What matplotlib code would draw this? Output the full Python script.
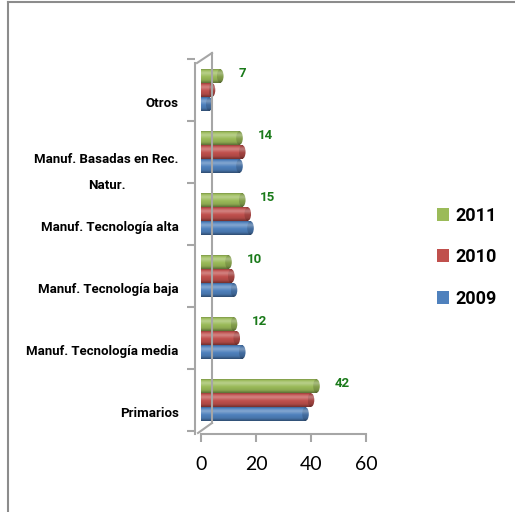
import numpy as np
import matplotlib
matplotlib.use('Agg')
import matplotlib.pyplot as plt
from matplotlib.patches import Ellipse, Patch
from matplotlib.lines import Line2D
import matplotlib.colors as mcolors

# ---- data ----
categories = ['Primarios', 'Manuf. Tecnología media', 'Manuf. Tecnología baja',
              'Manuf. Tecnología alta', 'Manuf. Basadas en Rec.\nNatur.', 'Otros']
v2009 = [38, 15, 12, 18, 14, 3]
v2010 = [40, 13, 11, 17, 15, 4]
v2011 = [42, 12, 10, 15, 14, 7]
years = ['2009', '2010', '2011']
xticks = [0, 20, 40, 60]

colors = {'2009': '#4f81bd', '2010': '#c0504d', '2011': '#9bbb59'}
label_color = '#1a7a1a'
axis_gray = '#a6a6a6'
FONT = ['Lato', 'DejaVu Sans']
BFONT = ['Roboto', 'DejaVu Sans']

W, H = 515, 512
fig = plt.figure(figsize=(W / 100, H / 100), dpi=100)
ax = fig.add_axes([201 / W, 1 - 434 / H, 165 / W, 376 / H])

# spines first (set_position resets ticks)
for s in ['top', 'right']:
    ax.spines[s].set_visible(False)
for s in ['left', 'bottom']:
    ax.spines[s].set_color(axis_gray)
    ax.spines[s].set_linewidth(1.5)
ax.spines['left'].set_position(('outward', 4))
ax.set_facecolor('none')

y = np.arange(len(categories))
bh = 0.22
offs = {'2009': -0.226, '2010': 0.0, '2011': 0.226}
series = {'2009': v2009, '2010': v2010, '2011': v2011}


def mix(c, f):
    r = np.array(mcolors.to_rgb(c))
    if f >= 0:
        return r + (1 - r) * f
    return r * (1 + f)


def gradient(c):
    stops_t = [0.0, 0.2, 0.45, 0.72, 0.88, 1.0]
    stops_f = [-0.4, -0.1, 0.0, 0.3, 0.1, -0.2]
    t = np.linspace(0, 1, 40)
    cols = np.array([mix(c, f) for f in np.interp(t, stops_t, stops_f)])
    cols = np.clip(cols, 0, 1)
    return cols[:, None, :]


cap_w = 2.4
for yr in years:
    bars = ax.barh(y + offs[yr], series[yr], height=bh, color=colors[yr], zorder=2)
    grad = gradient(colors[yr])
    capgrad = gradient(mix(colors[yr], -0.15))
    for b in bars:
        x0, y0 = b.get_x(), b.get_y()
        w, h = b.get_width(), b.get_height()
        im = ax.imshow(grad, extent=(x0, x0 + w, y0, y0 + h), origin='lower',
                       aspect='auto', zorder=3, interpolation='bilinear')
        im.set_clip_path(b)
        cap = Ellipse((x0 + w, y0 + h / 2), cap_w, h, facecolor='none',
                      edgecolor='none', zorder=4)
        ax.add_patch(cap)
        im2 = ax.imshow(capgrad, extent=(x0 + w - cap_w / 2, x0 + w + cap_w / 2, y0, y0 + h),
                        origin='lower', aspect='auto', zorder=4, interpolation='bilinear')
        im2.set_clip_path(cap)

# data labels for 2011
for yi, v in zip(y, v2011):
    ax.annotate(str(v), xy=(v, yi + offs['2011']), xytext=(13, 2),
                textcoords='offset points', ha='left', va='center',
                fontsize=9.5, fontweight='bold', color=label_color, family=BFONT,
                zorder=6)

ax.set_xlim(0, 60)
ax.set_ylim(-0.548, 5.516)
ax.spines['left'].set_bounds(-0.548, 5.44)
ax.set_xticks(xticks)
ax.set_xticklabels([str(t) for t in xticks], fontsize=14, family=FONT)
ax.set_yticks(y - 0.2)
ax.set_yticklabels(categories, fontsize=9.5, fontweight='bold', family=BFONT,
                   linespacing=2.3)
for lbl in ax.get_yticklabels():
    lbl.set_multialignment('center')
ax.set_yticks(np.arange(-0.5, len(categories), 1.0), minor=True)
ax.tick_params(axis='y', which='major', length=0, pad=12)
ax.tick_params(axis='y', which='minor', length=6, width=1.5, color=axis_gray,
               direction='out')
ax.tick_params(axis='x', which='major', length=6, width=1.5, color=axis_gray,
               direction='out', pad=10)


def px(xp, yp):
    return xp / W, 1 - yp / H


# back-wall lines of the 3D frame
for (xa, ya), (xb, yb) in [((197, 63), (212, 53)), ((212, 53), (212, 423)),
                           ((198, 433), (212, 423))]:
    p1, p2 = px(xa, ya), px(xb, yb)
    fig.add_artist(Line2D([p1[0], p2[0]], [p1[1], p2[1]], transform=fig.transFigure,
                          color=axis_gray, lw=1.5, zorder=1))

# chart border
fig.add_artist(Line2D([8 / W, 8 / W], [0, 1 - 1.5 / H], transform=fig.transFigure,
                      color='#8c8c8c', lw=1.5))
fig.add_artist(Line2D([8 / W, 1], [1 - 1.5 / H, 1 - 1.5 / H], transform=fig.transFigure,
                      color='#8c8c8c', lw=1.5))

handles = [Patch(facecolor=colors[yr], label=yr) for yr in ['2011', '2010', '2009']]
fig.legend(handles=handles, loc='upper left', bbox_to_anchor=(424 / W, 1 - 194 / H),
           frameon=False, prop={'family': BFONT, 'weight': 'bold', 'size': 13},
           handlelength=0.7, handleheight=0.7, handletextpad=0.35,
           labelspacing=1.3, borderpad=0.2)

fig.savefig('out.png', dpi=100)
